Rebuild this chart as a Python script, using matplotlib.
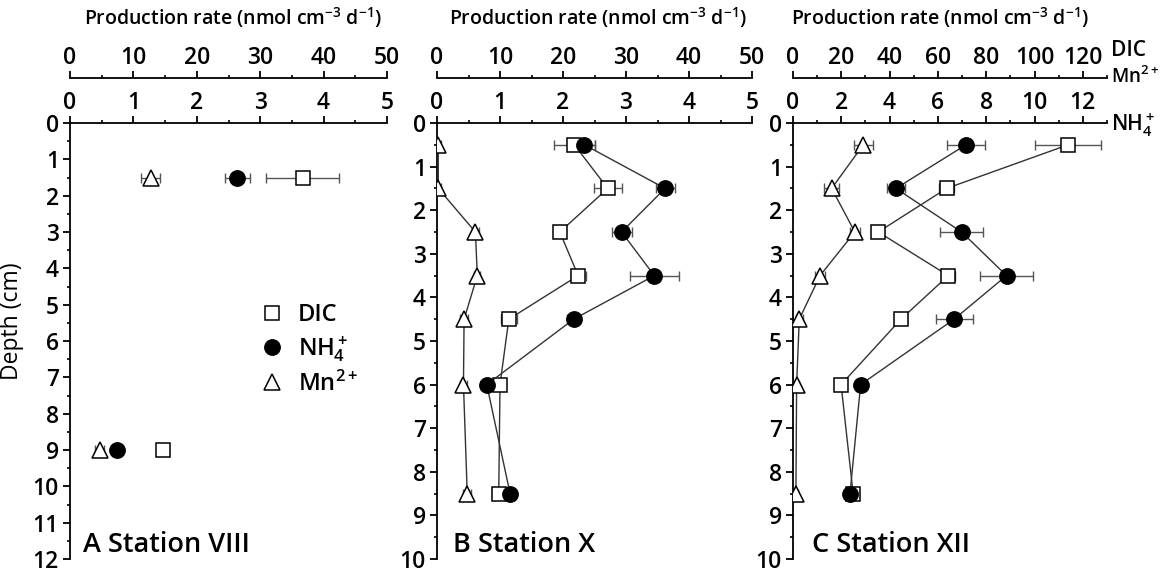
import numpy as np
import matplotlib.pyplot as plt
from matplotlib.ticker import MultipleLocator

plt.rcParams['font.family'] = ['Open Sans', 'DejaVu Sans']
plt.rcParams['font.weight'] = 'semibold'
plt.rcParams['mathtext.default'] = 'regular'

# Station VIII (A)
depth_A = [1.5, 9.0]
dic_A = [36.7, 14.7]
dic_A_err = [5.8, 0.4]
nh4_A = [26.4, 7.4]
nh4_A_err = [2.0, 0.3]
mn_A = [1.27, 0.47]
mn_A_err = [0.15, 0.07]

# Station X (B)
depth_B = [0.5, 1.5, 2.5, 3.5, 4.5, 6.0, 8.5]
dic_B = [21.8, 27.1, 19.5, 22.4, 11.4, 10.0, 9.8]
dic_B_err = [3.2, 2.2, 0.5, 1.2, 1.3, 0.8, 1.0]
nh4_B = [23.4, 36.2, 29.3, 34.5, 21.7, 7.9, 11.6]
nh4_B_err = [1.6, 1.5, 1.6, 3.9, 1.0, 0.9, 0.3]
mn_B = [0.02, 0.02, 0.61, 0.64, 0.43, 0.42, 0.48]
mn_B_err = [0.05, 0.05, 0.05, 0.05, 0.06, 0.06, 0.06]

# Station XII (C)
depth_C = [0.5, 1.5, 2.5, 3.5, 4.5, 6.0, 8.5]
dic_C = [113.9, 63.6, 35.3, 64.3, 44.7, 19.9, 24.9]
dic_C_err = [13.8, 3.0, 2.0, 2.8, 2.5, 0.8, 1.0]
nh4_C = [7.16, 4.26, 6.98, 8.84, 6.67, 2.8, 2.36]
nh4_C_err = [0.8, 0.38, 0.9, 1.1, 0.77, 0.1, 0.1]
mn_C = [29.1, 16.0, 25.6, 11.2, 2.6, 1.5, 1.2]
mn_C_err = [4.0, 3.0, 2.0, 2.0, 1.5, 1.0, 1.0]

W, H = 1161, 573
fig = plt.figure(figsize=(W / 100, H / 100), dpi=100)

fs_tick = 16.5
ecol = '#555555'
lcol = '#333333'


def style_axis(axis, major, minor):
    axis.set_major_locator(MultipleLocator(major))
    axis.set_minor_locator(MultipleLocator(minor))


def series(ax, x, y, err, marker, face, ms, connect):
    ax.errorbar(x, y, xerr=err, fmt='none', ecolor=ecol, elinewidth=1.0,
                capsize=3.5, capthick=1.0, zorder=2)
    return ax.plot(x, y, marker=marker, ms=ms, mfc=face, mec='black', mew=1.1,
                   color=lcol, lw=1.0 if connect else 0, zorder=3)[0]


def panel(left_px, right_px, ymax, up_max, up_step, low_max, low_step):
    top_px, bot_px = 123, 559
    ax = fig.add_axes([left_px / W, 1 - bot_px / H,
                       (right_px - left_px) / W, (bot_px - top_px) / H])
    ax.patch.set_visible(False)
    ax2 = ax.twiny()
    ax.set_ylim(ymax, 0)
    ax.set_xlim(0, up_max)
    ax2.set_xlim(0, low_max)

    ax.xaxis.set_ticks_position('top')
    ax.spines['top'].set_position(('outward', 32.4))
    for s in ['bottom', 'right']:
        ax.spines[s].set_visible(False)
    for s in ['bottom', 'right', 'left']:
        ax2.spines[s].set_visible(False)
    for a in (ax, ax2):
        for s in a.spines.values():
            s.set_linewidth(1.3)

    style_axis(ax.xaxis, up_step, up_step / 2)
    style_axis(ax2.xaxis, low_step, low_step / 2)
    style_axis(ax.yaxis, 1, 0.5)
    for a in (ax, ax2):
        a.tick_params(which='major', length=5, width=1.3, labelsize=fs_tick, pad=0.5)
        a.tick_params(which='minor', length=2.5, width=1.2)
    ax.tick_params(axis='y', pad=3)
    return ax, ax2


# Panel A
axA, axA2 = panel(70, 387, 12, 50, 10, 5, 1)
hd = series(axA, dic_A, depth_A, dic_A_err, 's', 'white', 9.5, False)
hn = series(axA, nh4_A, depth_A, nh4_A_err, 'o', 'black', 11, False)
hm = series(axA2, mn_A, depth_A, mn_A_err, '^', 'white', 11, False)
axA.set_ylabel('Depth (cm)', fontsize=16.5)
axA.yaxis.set_label_coords(-0.145, 0.545)
axA2.legend([hd, hn, hm], ['DIC', 'NH$_4^+$', 'Mn$^{2+}$'], frameon=False,
            fontsize=17, loc='upper left', bbox_to_anchor=(0.525, 0.635),
            handletextpad=0.5, labelspacing=0.3, handlelength=1.2)
axA.text(0.04, 0.0, 'A Station VIII', transform=axA.transAxes,
         fontsize=19.5, va='bottom')

# Panel B
axB, axB2 = panel(437, 752, 10, 50, 10, 5, 1)
series(axB, dic_B, depth_B, dic_B_err, 's', 'white', 9.5, True)
series(axB, nh4_B, depth_B, nh4_B_err, 'o', 'black', 11, True)
series(axB2, mn_B, depth_B, mn_B_err, '^', 'white', 11, True)
axB.text(0.05, 0.0, 'B Station X', transform=axB.transAxes,
         fontsize=19.5, va='bottom')

# Panel C
axC, axC2 = panel(793, 1107, 10, 130, 20, 13, 2)
series(axC, dic_C, depth_C, dic_C_err, 's', 'white', 9.5, True)
series(axC, mn_C, depth_C, mn_C_err, '^', 'white', 11, True)
series(axC2, nh4_C, depth_C, nh4_C_err, 'o', 'black', 11, True)
axC.text(0.06, 0.0, 'C Station XII', transform=axC.transAxes,
         fontsize=19.5, va='bottom')

title = 'Production rate (nmol cm$^{-3}$ d$^{-1}$)'
for cx in [233, 598, 940]:
    fig.text(cx / W, 1 - 18 / H, title, fontsize=14, ha='center', va='center')

fig.text(1111 / W, 1 - 50 / H, 'DIC', fontsize=15, va='center')
fig.text(1111 / W, 1 - 77 / H, 'Mn$^{2+}$', fontsize=13.5, va='center')
fig.text(1111 / W, 1 - 125 / H, 'NH$_4^+$', fontsize=15, va='center')

fig.savefig('out.png', dpi=100)
